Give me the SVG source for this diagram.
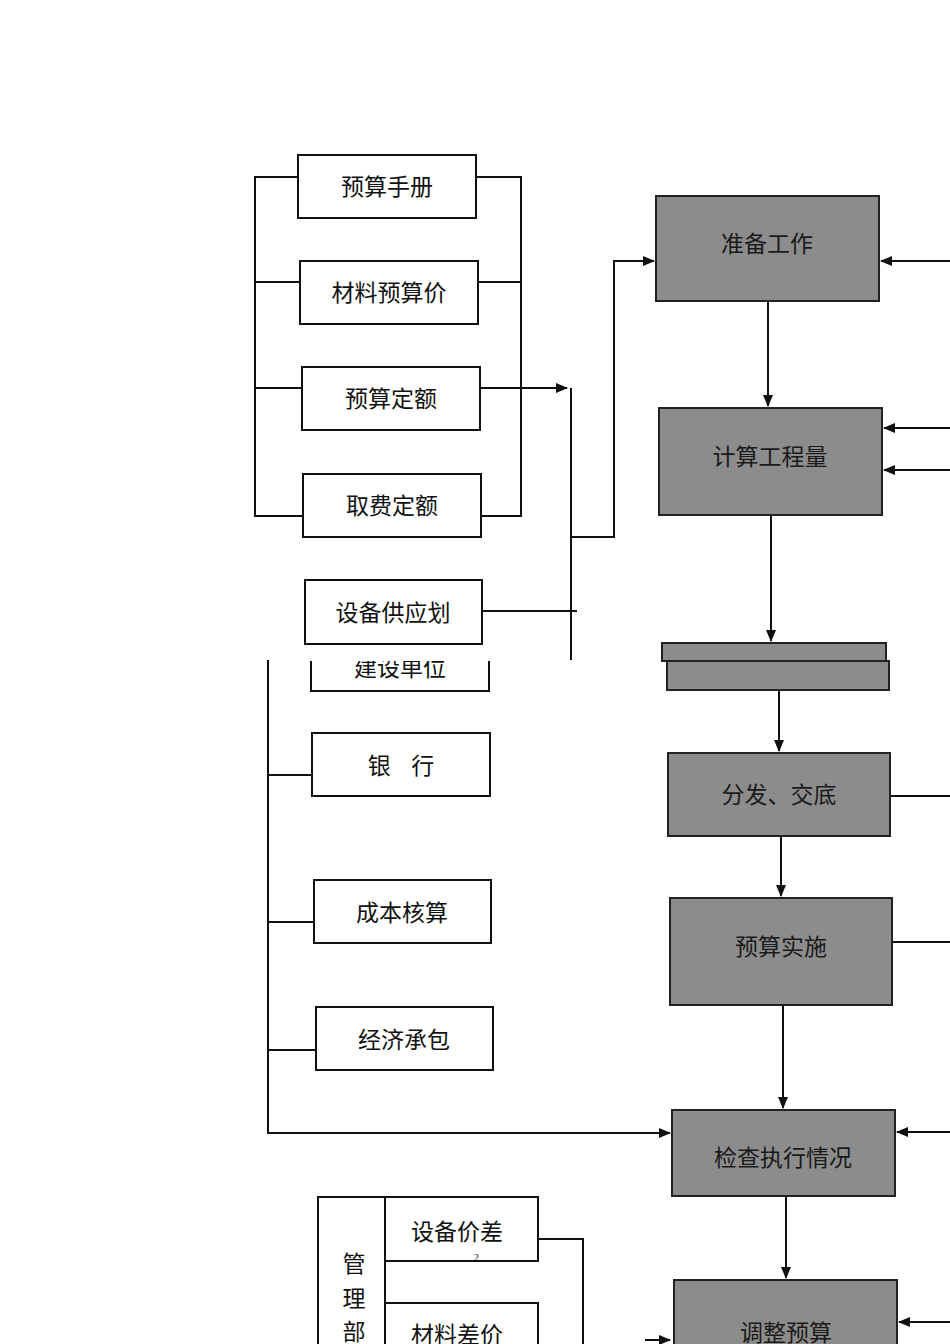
<svg xmlns="http://www.w3.org/2000/svg" width="950" height="1344" viewBox="0 0 950 1344">
<style>
.b{fill:#fff;stroke:#111;stroke-width:2}
.d{fill:#8c8c8c;stroke:#222;stroke-width:2}
.t{font-family:"Noto Sans CJK SC","Liberation Sans",sans-serif;font-size:23px;fill:#111;text-anchor:middle}
.td{font-family:"Noto Sans CJK SC","Liberation Serif",serif;font-size:23px;fill:#1a1a1a;text-anchor:middle}
.l{fill:none;stroke:#111;stroke-width:2}
</style>
<defs><marker id="a" markerWidth="12" markerHeight="10" refX="11" refY="5" orient="auto" markerUnits="userSpaceOnUse"><path d="M0,0L12,5L0,10z" fill="#111"/></marker>
<clipPath id="c"><rect x="300" y="661" width="200" height="40"/></clipPath></defs>
<rect width="950" height="1344" fill="#fff"/>
<g id="connectors">
<path class="l" d="M298,177H255V516H303M255,282H300M255,388H302"/>
<path class="l" d="M476,177H521V516H481M478,282H521M480,388H521"/>
<path class="l" d="M521,388H567" marker-end="url(#a)"/>
<path class="l" d="M571,388V660M571,537H614V261H654" marker-end="url(#a)"/>
<path class="l" d="M482,611H577"/>
<path class="l" d="M950,261H881" marker-end="url(#a)"/>
<path class="l" d="M768,301V406" marker-end="url(#a)"/>
<path class="l" d="M950,428H884" marker-end="url(#a)"/>
<path class="l" d="M950,470H884" marker-end="url(#a)"/>
<path class="l" d="M771,515V641" marker-end="url(#a)"/>
<path class="l" d="M779,690V751" marker-end="url(#a)"/>
<path class="l" d="M890,796H950M892,942H950"/>
<path class="l" d="M781,836V896" marker-end="url(#a)"/>
<path class="l" d="M783,1005V1108" marker-end="url(#a)"/>
<path class="l" d="M950,1132H897" marker-end="url(#a)"/>
<path class="l" d="M268,660V1133H670" marker-end="url(#a)"/>
<path class="l" d="M268,775H312M268,922H314M268,1050H316"/>
<path class="l" d="M786,1196V1278" marker-end="url(#a)"/>
<path class="l" d="M950,1322H899" marker-end="url(#a)"/>
<path class="l" d="M538,1239H583V1344"/>
<path class="l" d="M645,1340H670" marker-end="url(#a)"/>
</g>
<g id="n1"><rect class="b" x="298" y="155" width="178" height="63"/><text class="t" x="387" y="195">预算手册</text></g>
<g id="n2"><rect class="b" x="300" y="261" width="178" height="63"/><text class="t" x="389" y="301">材料预算价</text></g>
<g id="n3"><rect class="b" x="302" y="367" width="178" height="63"/><text class="t" x="391" y="407">预算定额</text></g>
<g id="n4"><rect class="b" x="303" y="474" width="178" height="63"/><text class="t" x="392" y="514">取费定额</text></g>
<g id="n5"><rect class="b" x="305" y="580" width="177" height="64"/><text class="t" x="393" y="621">设备供应划</text></g>
<g id="n6" clip-path="url(#c)"><rect class="b" x="311" y="640" width="178" height="51"/><text class="t" x="400" y="676">建设单位</text></g>
<g id="n7"><rect class="b" x="312" y="733" width="178" height="63"/><text class="t" x="401" y="774" xml:space="preserve">银    行</text></g>
<g id="n8"><rect class="b" x="314" y="880" width="177" height="63"/><text class="t" x="402" y="921">成本核算</text></g>
<g id="n9"><rect class="b" x="316" y="1007" width="177" height="63"/><text class="t" x="404" y="1048">经济承包</text></g>
<g id="d1"><rect class="d" x="656" y="196" width="223" height="105"/><text class="td" x="767" y="252">准备工作</text></g>
<g id="d2"><rect class="d" x="659" y="408" width="223" height="107"/><text class="td" x="770" y="465">计算工程量</text></g>
<g id="d3"><rect class="d" x="662" y="643" width="224" height="18"/><rect class="d" x="667" y="661" width="222" height="29"/></g>
<g id="d4"><rect class="d" x="668" y="753" width="222" height="83"/><text class="td" x="779" y="803">分发、交底</text></g>
<g id="d5"><rect class="d" x="670" y="898" width="222" height="107"/><text class="td" x="781" y="955">预算实施</text></g>
<g id="d6"><rect class="d" x="672" y="1110" width="223" height="86"/><text class="td" x="783" y="1166">检查执行情况</text></g>
<g id="d7"><rect class="d" x="674" y="1280" width="223" height="70"/><text class="td" x="786" y="1341">调整预算</text></g>
<g id="m"><rect class="b" x="318" y="1197" width="67" height="150"/><text class="t" x="354" y="1272">管</text><text class="t" x="354" y="1307">理</text><text class="t" x="354" y="1340">部</text></g>
<g id="m1"><rect class="b" x="385" y="1197" width="153" height="64"/><text class="t" x="457" y="1240">设备价差</text></g>
<g id="m2"><rect class="b" x="385" y="1303" width="153" height="50"/><text class="t" x="457" y="1343">材料差价</text></g>
<text x="474" y="1261" font-family="Liberation Serif,serif" font-size="10" fill="#111">2</text>
</svg>
